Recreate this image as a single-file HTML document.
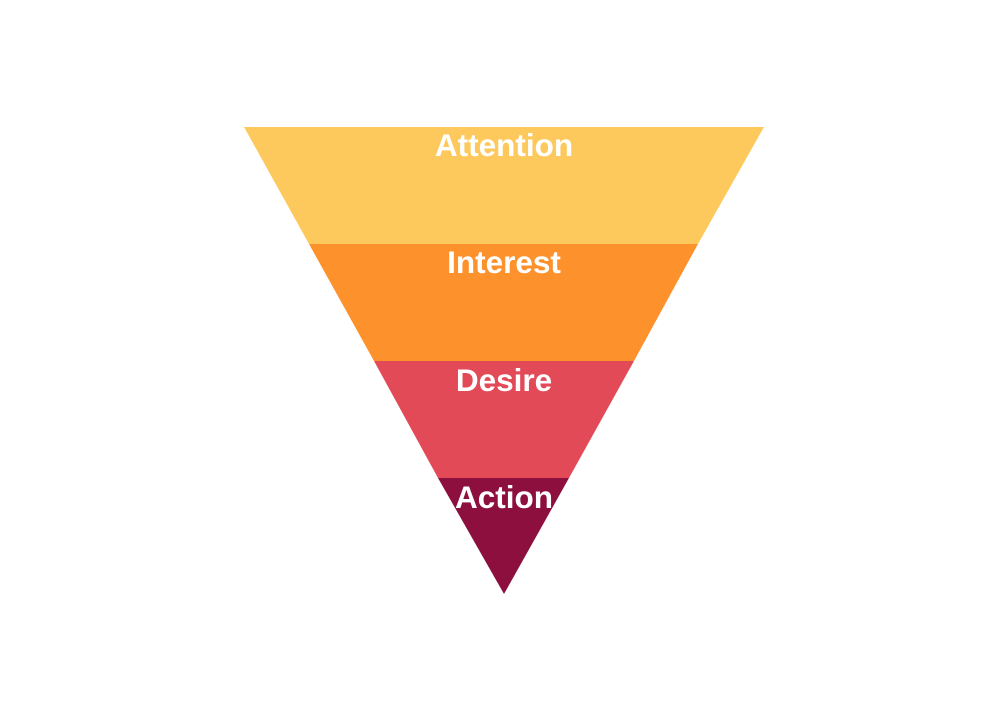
<!DOCTYPE html>
<html><head><meta charset="utf-8"><style>
html,body{margin:0;padding:0;background:#fff;}
</style></head><body>
<svg width="1007" height="721" viewBox="0 0 1007 721" xmlns="http://www.w3.org/2000/svg">
<rect width="1007" height="721" fill="#fff"/>
<polygon points="244,127 764,127 698,244 309,244" fill="#FEC95C"/>
<polygon points="309,244 698,244 634,361 374,361" fill="#FD922D"/>
<polygon points="374,361 634,361 569,478 438,478" fill="#E34A57"/>
<polygon points="438,478 569,478 504,594" fill="#8C0F3E"/>
<g font-family="Liberation Sans, sans-serif" font-weight="bold" font-size="31.5" fill="#fff" text-anchor="middle">
<text x="504" y="156">Attention</text>
<text x="504" y="273">Interest</text>
<text x="504" y="391">Desire</text>
<text x="504" y="508">Action</text>
</g>
</svg>
</body></html>
